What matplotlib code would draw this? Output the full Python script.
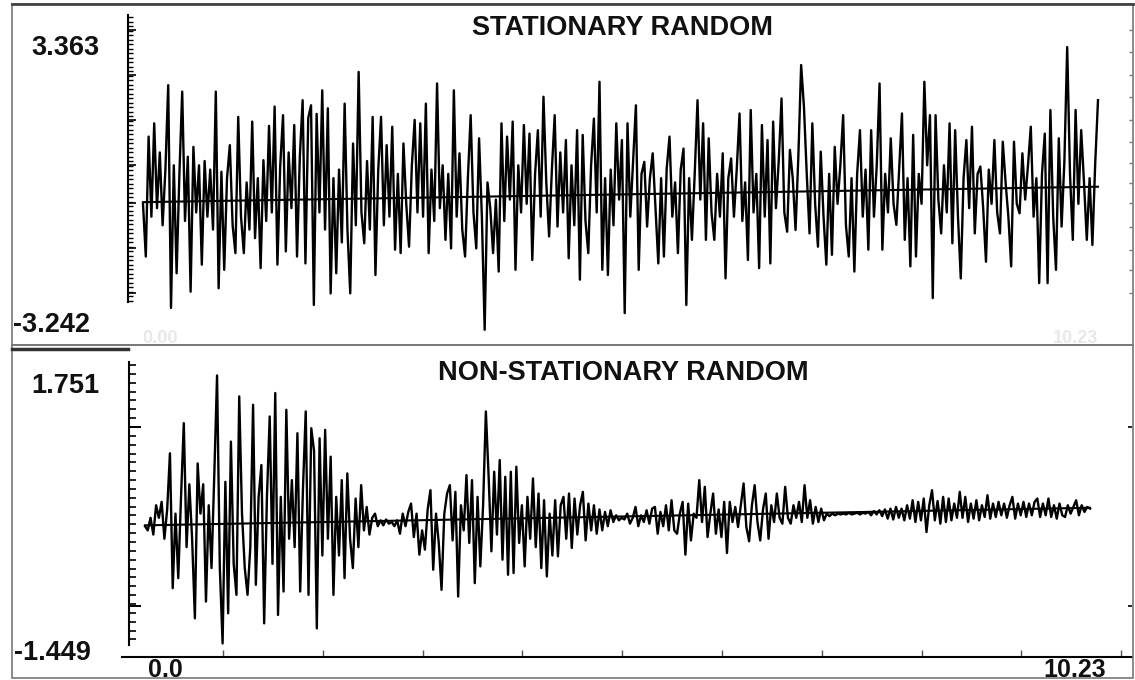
import numpy as np
import matplotlib.pyplot as plt
from matplotlib.patches import Rectangle
from matplotlib.lines import Line2D

W, H = 1135, 680
font_big = {'family': 'Liberation Sans', 'weight': 'bold', 'size': 19.5, 'color': '#111111'}
font_axis = {'family': 'Liberation Sans', 'weight': 'bold', 'size': 18, 'color': '#111111'}
font_ghost = {'family': 'Liberation Sans', 'weight': 'bold', 'size': 13, 'color': '#e8e8e8'}

dt = 0.03
stationary = np.array([
    -0.30, -1.53, 1.27, -0.60, 1.58, -0.40, 0.90, -0.80, 0.50, 2.47,
    -2.73, 0.60, -1.92, 0.40, 2.32, -0.70, 0.80, -2.35, 1.03, -0.50,
    0.60, -1.72, 0.70, -0.60, 0.50, -0.90, 2.32, -2.27, 0.45, -1.84,
    0.30, 1.07, -0.80, -1.45, 1.73, -0.60, -1.45, 0.20, -0.90, 1.62,
    -1.10, 0.30, -1.80, 0.72, -0.70, 1.52, -0.50, 1.97, -1.72, 0.60,
    1.77, -1.41, 0.90, -0.40, 1.54, -1.53, 0.80, 2.12, -1.69, 1.70,
    2.00, -2.66, 1.80, -0.50, 2.35, -0.90, 1.93, -2.39, 0.30, -1.92,
    0.50, -1.20, 2.04, -0.90, -2.39, 1.11, -0.80, 2.78, -0.50, -1.22,
    0.70, -0.90, 1.73, -1.96, 0.50, 1.73, -0.80, 1.07, -0.60, 1.50,
    -1.37, 0.40, -1.45, 1.11, -0.30, -1.30, 0.60, 1.66, -0.50, 1.58,
    -0.60, 2.04, -1.45, 0.50, -0.70, 2.51, -0.40, 0.60, -1.14, 0.40,
    -1.34, 2.35, -0.60, 0.88, -0.90, -1.53, 0.30, 1.77, -0.50, -1.34,
    1.23, -0.60, -3.24, 0.20, -0.40, -1.45, -0.20, -1.88, 1.58, -0.70,
    1.27, -0.20, 1.62, -1.84, 0.60, -0.50, 1.54, -0.30, 1.34, -1.61,
    0.40, 1.42, -0.60, 2.20, 0.20, -1.06, 0.50, 1.77, -0.83, 0.90,
    -0.50, 1.19, -1.57, 0.60, -0.80, 1.42, -2.07, 1.31, -0.70, -1.45,
    0.60, 1.69, -0.50, 2.55, -1.84, 0.30, -1.96, 0.50, -0.80, 1.58,
    -0.20, 1.19, -2.85, 1.58, -0.60, 0.70, 2.00, -1.84, 0.40, 0.68,
    -0.83, 0.30, 0.88, -0.40, -1.69, 0.30, -1.53, 0.53, 1.27, -0.60,
    0.20, -1.45, 0.50, 0.99, -2.66, 0.30, -1.14, 0.40, 2.12, -0.20,
    1.58, -1.14, 1.23, -0.50, -1.14, 0.40, -0.60, 0.88, -2.04, 0.30,
    0.76, -0.60, 0.50, 1.81, -0.70, 0.20, -1.61, 1.89, -0.50, 0.40,
    -1.80, 1.54, -0.60, 1.19, -1.69, 1.62, -0.40, 0.70, 2.16, -0.50,
    -0.95, 0.96, 0.30, -0.91, 0.80, 2.94, 1.97, 0.40, -0.99, 1.58,
    -0.30, -1.30, 0.92, -0.60, -1.72, 0.40, -1.49, 1.03, -0.30, 0.60,
    1.77, -0.80, -1.53, 0.30, -1.88, 0.40, 1.42, -0.60, 0.50, -1.37,
    1.42, -0.60, 0.60, 2.51, -1.37, 0.40, -0.50, 1.23, -0.30, -0.79,
    0.50, 1.81, -1.14, 0.30, -1.76, 1.31, -1.53, 0.40, -0.30, 2.55,
    0.60, 1.77, -2.50, 1.77, -0.20, -0.99, 0.60, -0.50, 1.58, -1.22,
    1.42, -0.60, -2.04, 0.30, 1.19, -0.40, 1.50, -0.99, 0.40, 0.57,
    -0.40, -1.65, 0.50, -0.30, 1.19, -0.50, -0.99, 1.15, 0.20, -0.60,
    -1.76, 1.15, -0.30, -0.52, 0.88, -0.20, 0.60, 1.50, -0.60, 0.30,
    -2.15, 0.40, 1.34, -2.15, 1.89, -0.60, -1.84, 1.23, -0.83, 0.70,
    3.36, 0.40, -1.14, 1.89, -0.30, 1.42, 0.20, -1.14, 0.30, -1.26,
    0.64, 2.12])

non_stationary = np.array([
    -0.05, -0.10, 0.05, -0.15, 0.20, 0.05, 0.24, -0.20, 0.15, 0.82,
    -0.79, 0.10, -0.67, 0.30, 1.18, -0.30, 0.45, -0.20, -1.15, 0.70,
    0.10, 0.45, -0.95, 0.20, -0.55, 0.56, 1.75, -0.55, -1.45, 0.48,
    -1.09, 0.96, -0.50, -0.87, 1.50, 0.10, -0.55, -0.87, -0.30, 1.40,
    -0.75, 0.30, 0.68, -1.21, 0.30, 1.26, -0.50, 1.54, -1.11, 0.30,
    -0.83, 1.34, -0.20, 0.50, -0.30, 1.06, -0.83, 0.40, 1.32, -0.87,
    1.12, 0.85, -1.27, 1.00, -0.40, 1.10, -0.20, 0.78, -0.87, 0.30,
    -0.40, 0.50, -0.67, 0.58, -0.20, -0.55, 0.28, -0.30, 0.44, -0.10,
    0.18, -0.15, 0.05, 0.10, -0.05, 0.02, -0.04, 0.03, -0.02, 0.00,
    -0.05, 0.02, -0.14, 0.10, -0.05, 0.12, 0.22, -0.18, 0.10, -0.39,
    -0.10, -0.33, 0.15, 0.38, -0.57, 0.10, -0.25, -0.81, 0.10, 0.34,
    0.44, -0.22, 0.36, -0.89, 0.20, -0.10, 0.56, -0.25, 0.50, -0.73,
    0.30, -0.53, 0.20, 1.32, 0.54, -0.35, 0.60, -0.15, 0.74, -0.45,
    0.54, -0.63, 0.60, -0.61, 0.66, -0.25, 0.20, -0.53, 0.30, -0.20,
    0.52, -0.30, 0.34, -0.55, 0.26, -0.65, 0.10, -0.40, 0.26, -0.41,
    0.20, 0.30, -0.20, 0.34, -0.31, 0.28, -0.15, 0.20, 0.36, -0.22,
    0.22, -0.10, 0.20, -0.14, 0.15, -0.10, 0.12, -0.05, 0.14, 0.00,
    0.08, 0.02, 0.05, 0.03, 0.10, -0.02, 0.05, 0.18, -0.05, 0.08,
    0.00, 0.14, -0.02, 0.16, 0.18, -0.14, 0.12, -0.05, 0.20, -0.10,
    0.26, -0.10, -0.14, 0.10, 0.24, -0.39, 0.22, -0.22, 0.10, 0.05,
    0.50, 0.00, 0.42, -0.18, 0.10, 0.34, -0.14, 0.15, -0.18, 0.24,
    -0.37, 0.24, 0.00, 0.18, -0.06, 0.20, 0.46, -0.06, -0.23, 0.20,
    0.44, 0.00, -0.22, 0.15, 0.34, -0.20, 0.20, 0.00, 0.34, 0.05,
    -0.02, 0.42, 0.05, -0.02, 0.20, 0.05, 0.24, 0.00, 0.44, 0.05,
    0.26, -0.02, 0.18, 0.00, 0.16, 0.02, 0.10, 0.07, 0.10, 0.08,
    0.10, 0.09, 0.10, 0.09, 0.11, 0.09, 0.10, 0.11, 0.09, 0.11,
    0.10, 0.12, 0.08, 0.13, 0.09, 0.14, 0.07, 0.15, 0.04, 0.16,
    0.03, 0.18, 0.05, 0.16, 0.02, 0.20, 0.04, 0.26, 0.00, 0.24,
    0.02, 0.28, -0.12, 0.20, 0.38, 0.02, 0.25, -0.02, 0.30, 0.00,
    0.28, 0.02, 0.22, 0.05, 0.36, 0.05, 0.30, 0.00, 0.22, 0.04,
    0.26, 0.02, 0.20, 0.06, 0.32, 0.04, 0.22, 0.06, 0.24, 0.08,
    0.22, 0.05, 0.20, 0.30, 0.04, 0.22, 0.08, 0.24, 0.06, 0.22,
    0.08, 0.24, 0.28, 0.06, 0.22, 0.08, 0.28, 0.06, 0.20, 0.04,
    0.22, 0.08, 0.06, 0.20, 0.10, 0.18, 0.26, 0.08, 0.20, 0.12,
    0.18, 0.16])

trend_stationary = [-0.26, 0.10]
trend_non_stationary = [-0.04, 0.17]

titles = ["STATIONARY RANDOM", "NON-STATIONARY RANDOM"]
y_labels_top = ["3.363", "-3.242"]
y_labels_bottom = ["1.751", "-1.449"]
x_labels = ["0.0", "10.23"]

t = np.arange(len(stationary)) * dt


def fx(x):
    return x / W


def fy(y):
    return 1 - y / H


fig = plt.figure(figsize=(W / 100, H / 100), dpi=100, facecolor='white')


def panel(y0, y1, x_zero, x_end, y_zero, per_px):
    # axes covers the whole panel, limits set so data lands on the same pixels
    ax = fig.add_axes([fx(12), fy(y1), fx(1132) - fx(12), fy(y0) - fy(y1)])
    ppt = (x_end - x_zero) / t[-1]
    ax.set_xlim((12 - x_zero) / ppt, (1132 - x_zero) / ppt)
    ax.set_ylim((y_zero - y1) * per_px, (y_zero - y0) * per_px)
    ax.patch.set_alpha(0)
    for s in ax.spines.values():
        s.set_visible(False)
    tx = lambda x: (x - x_zero) / ppt
    vy = lambda y: (y_zero - y) * per_px
    return ax, tx, vy


# top panel
ax1, tx1, vy1 = panel(4, 345, 143, 1098, 191, 0.02334)
ax1.plot(t, stationary, color='black', lw=1.7)
ax1.plot([t[0], t[-1]], trend_stationary, color='black', lw=1.5)
sp = ax1.spines['left']
sp.set_visible(True)
sp.set_position(('data', tx1(128)))
sp.set_bounds(vy1(302), vy1(15))
sp.set_linewidth(1.5)
ax1.set_yticks([vy1(y) for y in [30, 75, 120, 165, 203, 248, 293]])
ax1.set_yticks([vy1(y) for y in np.arange(17, 302, 4.5)], minor=True)
ax1.tick_params(axis='y', which='major', direction='in', length=6, width=1.2, labelleft=False)
ax1.tick_params(axis='y', which='minor', direction='in', length=3.5, width=1.0)
ax1.set_xticks([])

ax1r = ax1.twinx()
ax1r.set_ylim(ax1.get_ylim())
for s in ax1r.spines.values():
    s.set_visible(False)
ax1r.set_yticks([vy1(y) for y in [30, 52, 75, 97, 120, 142, 163, 183, 203, 227, 250, 270, 293]])
ax1r.tick_params(axis='y', direction='in', length=2.5, width=1.0, color='#777777', labelright=False)

# bottom panel
ax2, tx2, vy2 = panel(345, 678, 145, 1090, 522, 0.01194)
ax2.plot(t, non_stationary, color='black', lw=1.7)
ax2.plot([t[0], t[-1]], trend_non_stationary, color='black', lw=1.5)
sp = ax2.spines['left']
sp.set_visible(True)
sp.set_position(('data', tx2(129)))
sp.set_bounds(vy2(645), vy2(362))
sp.set_linewidth(1.5)
ax2.set_yticks([vy2(427), vy2(605.6)])
ax2.set_yticks([vy2(y) for y in np.arange(365, 646, 8.85)], minor=True)
ax2.tick_params(axis='y', which='major', direction='in', length=8.5, width=1.4, labelleft=False)
ax2.tick_params(axis='y', which='minor', direction='in', length=5, width=1.2)
sp = ax2.spines['bottom']
sp.set_visible(True)
sp.set_position(('data', vy2(657)))
sp.set_bounds(tx2(122), tx2(1132))
sp.set_linewidth(1.5)
ax2.set_xticks([tx2(223 + 99.8 * k) for k in range(10)])
ax2.tick_params(axis='x', direction='in', length=5, width=1.0, color='#555555', labelbottom=False)

ax2r = ax2.twinx()
ax2r.set_ylim(ax2.get_ylim())
for s in ax2r.spines.values():
    s.set_visible(False)
ax2r.set_yticks([vy2(427), vy2(606)])
ax2r.tick_params(axis='y', direction='in', length=3, width=1.2, labelright=False)

# frames
fig.add_artist(Rectangle((fx(12), fy(345)), fx(1133) - fx(12), fy(4) - fy(345),
                         transform=fig.transFigure, fill=False, ec='#777777', lw=1.2))
fig.add_artist(Rectangle((fx(12), fy(678)), fx(1133) - fx(12), fy(345) - fy(678),
                         transform=fig.transFigure, fill=False, ec='#777777', lw=1.2))
fig.add_artist(Line2D([fx(12), fx(1133)], [fy(4), fy(4)], transform=fig.transFigure, color='#444444', lw=2))
fig.add_artist(Line2D([fx(12), fx(128)], [fy(349.5), fy(349.5)], transform=fig.transFigure, color='#333333', lw=2.5))

# texts
fig.text(fx(623), fy(35), titles[0], ha='center', va='baseline', fontdict=font_big)
fig.text(fx(623), fy(380), titles[1], ha='center', va='baseline', fontdict=font_big)
fig.text(fx(65.5), fy(55), y_labels_top[0], ha='center', va='baseline', fontdict=font_big)
fig.text(fx(52), fy(332), y_labels_top[1], ha='center', va='baseline', fontdict=font_big)
fig.text(fx(65.5), fy(393), y_labels_bottom[0], ha='center', va='baseline', fontdict=font_big)
fig.text(fx(52), fy(660), y_labels_bottom[1], ha='center', va='baseline', fontdict=font_big)
fig.text(fx(165), fy(677), x_labels[0], ha='center', va='baseline', fontdict=font_axis)
fig.text(fx(1075), fy(677), x_labels[1], ha='center', va='baseline', fontdict=font_axis)
fig.text(fx(160), fy(343), "0.00", ha='center', va='baseline', fontdict=font_ghost)
fig.text(fx(1075), fy(343), x_labels[1], ha='center', va='baseline', fontdict=font_ghost)

fig.savefig('out.png', dpi=100, facecolor='white')
